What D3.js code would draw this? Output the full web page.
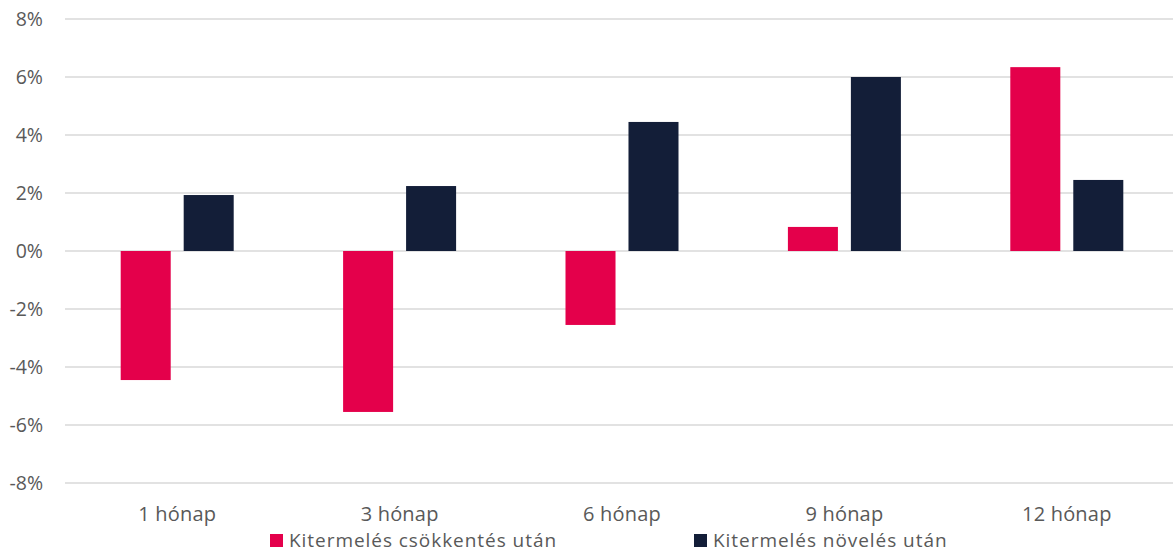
<!DOCTYPE html>
<html><head><meta charset="utf-8">
<script src="https://cdn.jsdelivr.net/npm/d3@7"></script>
<style>body{margin:0;background:#fff}svg{display:block}</style>
</head><body>
<svg id="c" width="1173" height="553"></svg>
<script>
const categories = ["1 hónap","3 hónap","6 hónap","9 hónap","12 hónap"];
const seriesNames = ["Kitermelés csökkentés után","Kitermelés növelés után"];
const decreaseValues = [-4.45,-5.55,-2.55,0.83,6.34];
const increaseValues = [1.93,2.24,4.45,6.0,2.45];
const yTicks = [-8,-6,-4,-2,0,2,4,6,8];
const colors = ["#E4004B","#131E38"];

const svg = d3.select("#c");
const font = "'Open Sans', sans-serif";
const x = d3.scaleBand().domain(categories).range([66,1178]).paddingInner(0).paddingOuter(0);
const y = d3.scaleLinear().domain([-8,8]).range([483,19]);
const xs = d3.scaleBand().domain([0,1]).range([0,113]).paddingInner(0.206);

// gridlines
svg.append("g").selectAll("line").data(yTicks).join("line")
  .attr("x1",65).attr("x2",1173)
  .attr("y1",d=>y(d)).attr("y2",d=>y(d))
  .attr("stroke","#D9D9D9").attr("stroke-width",1.5);

// y labels
const yAxis = d3.axisLeft(y).tickValues(yTicks).tickFormat(d=>d+"%").tickSize(0).tickPadding(0);
const ya = svg.append("g").attr("transform","translate(43,0)").call(yAxis);
ya.select(".domain").remove();
ya.selectAll("text").attr("font-family",font).attr("font-size",19.5).attr("fill","#595959").attr("dy","0.35em");

// bars
const data = categories.map((c,i)=>({c, v:[decreaseValues[i],increaseValues[i]]}));
const g = svg.append("g");
data.forEach(d=>{
  const x0 = x(d.c) + x.bandwidth()/2 - 56.5;
  d.v.forEach((v,j)=>{
    g.append("rect")
      .attr("x", x0 + xs(j)).attr("width", xs.bandwidth())
      .attr("y", y(Math.max(0,v))).attr("height", Math.abs(y(v)-y(0)))
      .attr("fill", colors[j]);
  });
});

// x labels
const xAxis = d3.axisBottom(x).tickSize(0).tickPadding(0);
const xa = svg.append("g").attr("transform","translate(0,521)").call(xAxis);
xa.select(".domain").remove();
xa.selectAll("text").attr("font-family",font).attr("font-size",20).attr("letter-spacing",0.2).attr("fill","#595959").attr("dy","0");

// legend
const legX = [270,694];
const leg = svg.append("g");
seriesNames.forEach((n,i)=>{
  leg.append("rect").attr("x",legX[i]).attr("y",534).attr("width",13).attr("height",13).attr("fill",colors[i]);
  leg.append("text").attr("x",legX[i]+19).attr("y",547).text(n)
    .attr("font-family",font).attr("font-size",19).attr("letter-spacing",0.95).attr("fill","#595959");
});
</script>
</body></html>
